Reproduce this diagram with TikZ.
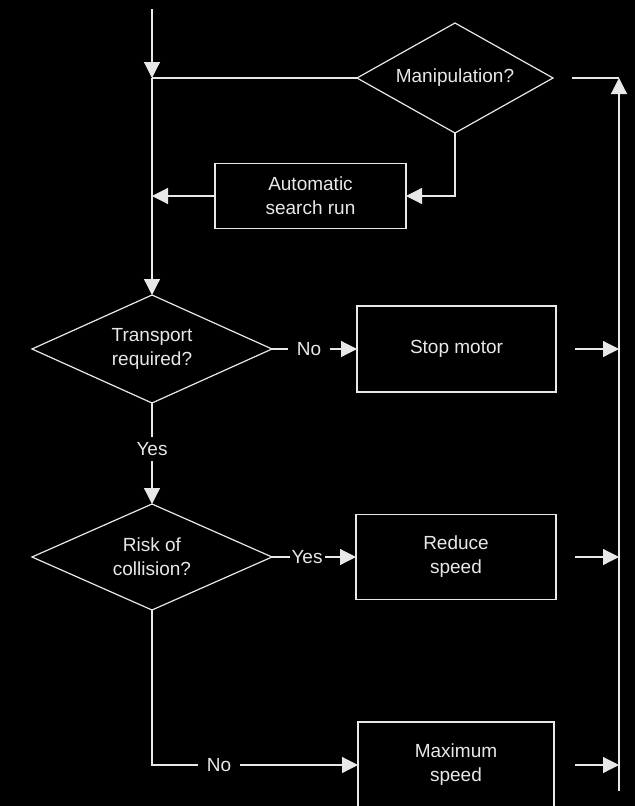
\documentclass[tikz,border=0pt]{standalone}
\usepackage{fontspec}
\setmainfont{Liberation Sans}
\usetikzlibrary{shapes.geometric,arrows.meta}
\definecolor{fg}{RGB}{232,232,232}
\begin{document}
\begin{tikzpicture}[x=1pt,y=-1pt,
  every node/.style={text=fg, font=\fontsize{19}{24}\selectfont, align=center},
  decision/.style={draw=fg, line width=1.2pt, shape=diamond, aspect=2, inner sep=0pt, outer sep=0pt},
  procbox/.style={draw=fg, line width=1.2pt, rectangle, inner sep=0pt, outer sep=0pt},
  flow/.style={draw=fg, line width=1.2pt},
  arr/.style={flow, -{Triangle[length=16pt,width=16pt]}},
  lbl/.style={fill=black, inner xsep=9pt, inner ysep=2pt}]
\fill[black] (0,0) rectangle (635,806);
\useasboundingbox (0,0) rectangle (635,806);

% nodes
\node[decision, minimum width=196pt, minimum height=110pt] (manip) at (455,78) {Manipulation?};
\node[procbox, minimum width=191pt, minimum height=65pt] (auto) at (310.5,196) {Automatic\\search run};
\node[decision, minimum width=240pt, minimum height=108pt] (trans) at (152,349) {Transport\\required?};
\node[procbox, minimum width=199pt, minimum height=86pt] (stop) at (456.5,349) {Stop motor};
\node[decision, minimum width=240pt, minimum height=106pt] (risk) at (152,557) {Risk of\\collision?};
\node[procbox, minimum width=200pt, minimum height=85pt] (reduce) at (456,557) {Reduce\\speed};
\node[procbox, minimum width=196pt, minimum height=86pt] (maxs) at (456,765) {Maximum\\speed};

% coordinates
\coordinate (top) at (152,9);
\coordinate (j1) at (152,78);
\coordinate (rtop) at (619,78);
\coordinate (rbot) at (619,791);
\coordinate (rstart) at (572,78);

% connectors
\draw[arr] (top) -- (j1);
\draw[flow] (manip.west) -- (j1);
\draw[arr] (j1) -- (trans.north);
\draw[arr] (manip.south) |- (auto.east);
\draw[arr] (auto.west) -- (auto.west -| j1);
\draw[arr] (rbot) -- (rtop);
\draw[flow] (rstart) -- (rtop);
\draw[arr] ([xshift=19pt]stop.east) -- (stop.east -| rtop);
\draw[arr] ([xshift=19pt]reduce.east) -- (reduce.east -| rtop);
\draw[arr] ([xshift=21pt]maxs.east) -- (maxs.east -| rtop);
\draw[arr] (trans.east) -- (stop.west);
\draw[arr] (trans.south) -- (risk.north);
\draw[arr] (risk.east) -- (reduce.west);
\draw[arr] (risk.south) |- (maxs.west);

% labels
\node[lbl] (lno1) at (309,349) {No};
\node[lbl, inner ysep=5pt] (lyes1) at (152,449) {Yes};
\node[lbl, inner xsep=2pt] (lyes2) at (307,557) {Yes};
\node[lbl] (lno2) at (219,765) {No};
\end{tikzpicture}
\end{document}
